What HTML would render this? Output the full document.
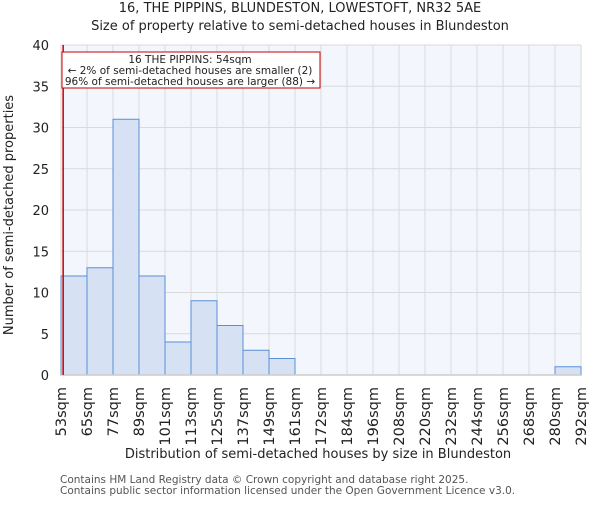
<!DOCTYPE html>
<html><head><meta charset="utf-8"><style>
body{margin:0;background:#fff}
svg text{font-family:"DejaVu Sans","Liberation Sans",sans-serif;fill:#222}
</style></head><body>
<svg width="600" height="500" xmlns="http://www.w3.org/2000/svg">
<text x="300" y="12" text-anchor="middle" font-size="13">16, THE PIPPINS, BLUNDESTON, LOWESTOFT, NR32 5AE</text>
<text x="300" y="30" text-anchor="middle" font-size="13">Size of property relative to semi-detached houses in Blundeston</text>
<rect x="61" y="45" width="520" height="330" fill="#f3f6fd"/>
<g id="grid"></g><g id="bars"></g><g id="axes"></g>
<text transform="translate(13,215) rotate(-90)" text-anchor="middle" font-size="13">Number of semi-detached properties</text>
<text x="318" y="458" text-anchor="middle" font-size="13">Distribution of semi-detached houses by size in Blundeston</text>
<text x="60" y="483" font-size="10.5" style="fill:#555">Contains HM Land Registry data © Crown copyright and database right 2025.</text>
<text x="60" y="494" font-size="10.5" style="fill:#555">Contains public sector information licensed under the Open Government Licence v3.0.</text>
</svg>
<script>
const labels=["53sqm","65sqm","77sqm","89sqm","101sqm","113sqm","125sqm","137sqm","149sqm","161sqm","172sqm","184sqm","196sqm","208sqm","220sqm","232sqm","244sqm","256sqm","268sqm","280sqm","292sqm"];
const counts=[12,13,31,12,4,9,6,3,2,0,0,0,0,0,0,0,0,0,0,1];
const yTicks=[0,5,10,15,20,25,30,35,40];
const propertySize=54;
const NS="http://www.w3.org/2000/svg";
const L=61,R=581,T=45,B=375,yMax=40;
const bw=(R-L)/counts.length;
const xs=i=>L+i*bw;
const ys=v=>B-v/yMax*(B-T);
const xv=v=>L+(v-53)/12*bw;
function mk(tag,attrs,parent){const e=document.createElementNS(NS,tag);for(const k in attrs)e.setAttribute(k,attrs[k]);parent.appendChild(e);return e;}
const grid=document.getElementById('grid'),bars=document.getElementById('bars'),axes=document.getElementById('axes');
for(let i=0;i<labels.length;i++){
  const l=mk('line',{x1:xs(i),x2:xs(i),y1:T,y2:B,stroke:'#dadada','stroke-width':1},grid);
  
  
  const t=mk('text',{transform:`translate(${xs(i)+5},${B+12}) rotate(-90)`,'text-anchor':'end','font-size':'14.5'},axes);
  t.textContent=labels[i];
  
  
}
yTicks.forEach(v=>{
  const l=mk('line',{x1:L,x2:R,y1:ys(v),y2:ys(v),stroke:'#dadada','stroke-width':1},grid);
  
  
  const t=mk('text',{x:L-12,y:ys(v)+5,'text-anchor':'end','font-size':'13'},axes);
  t.textContent=v;
  
  
});
counts.forEach((c,i)=>{
  if(c<=0)return;
  const r=mk('rect',{x:xs(i),y:ys(c),width:bw,height:B-ys(c),fill:'#d6e1f4',stroke:'#5b8fd6','stroke-width':1},bars);
  
  
});
const ax=mk('line',{x1:L,x2:R,y1:B,y2:B,stroke:'#ccc','stroke-width':1.5},axes);


const px=xv(propertySize);
const pl=mk('line',{x1:px,x2:px,y1:T,y2:B,stroke:'#cc0000','stroke-width':1.5},axes);


const g=mk('g',{},axes);


mk('rect',{x:62,y:52,width:258,height:36,fill:'#fff',stroke:'#cc0000','stroke-width':1},g);
[["16 THE PIPPINS: 54sqm",63],["← 2% of semi-detached houses are smaller (2)",74],["96% of semi-detached houses are larger (88) →",85]].forEach(([s,y])=>{
  const t=mk('text',{x:190,y:y,'text-anchor':'middle','font-size':'10.5'},g);t.textContent=s;
  
  
});
</script>
</body></html>
